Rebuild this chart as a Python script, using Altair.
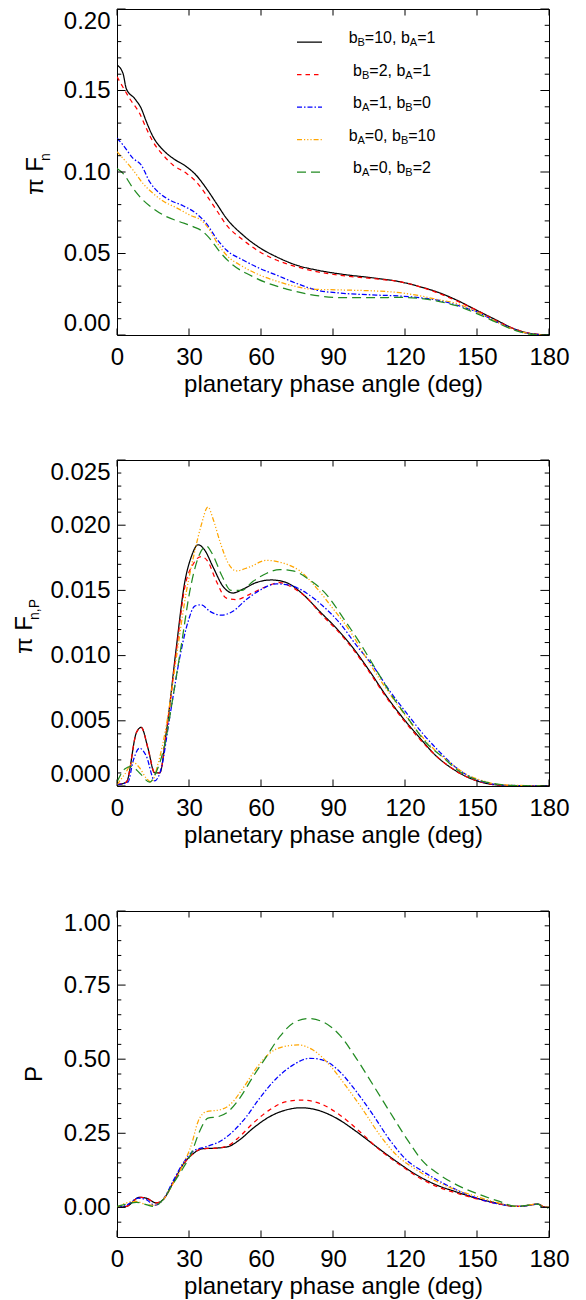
import re
import altair as alt
import pandas as pd

FONT = "Liberation Sans"
W, H = 432, 326
FS = 24

SERIES = ["b_B=10, b_A=1", "b_B=2, b_A=1", "b_A=1, b_B=0", "b_A=0, b_B=10", "b_A=0, b_B=2"]
COLORS = ["#000000", "#ff0000", "#0000ff", "#ffa500", "#228b22"]
DASHES = [[1, 0], [4.5, 4], [5, 2, 1.5, 2], [5, 2, 1.2, 2, 1.2, 2, 1.2, 2], [9, 5]]

PHASE_TICKS = [0, 30, 60, 90, 120, 150, 180]

# ---------------- panel 1 : pi F_n ----------------
fn_s1_phase = [0, 2.5, 3.9, 7.4, 10.1, 12.2, 15, 19.2, 23.3, 28.9, 33, 37.2, 41.4, 45.6, 52.5, 59.4, 66.4, 74.7, 83, 94.2, 108, 117.8, 126, 133, 141.4, 149.7, 158, 165, 172, 180]
fn_s1 = [0.1656, 0.1605, 0.151, 0.145, 0.139, 0.131, 0.1217, 0.1135, 0.1084, 0.1033, 0.098, 0.090, 0.0808, 0.0716, 0.0613, 0.0536, 0.048, 0.0429, 0.0399, 0.0372, 0.0348, 0.0327, 0.0297, 0.0266, 0.0215, 0.0153, 0.0092, 0.0041, 0.001, 0.0]
fn_s2_phase = [0, 2.5, 5.3, 9.4, 12.2, 15, 19.2, 23.3, 28.9, 33, 37.2, 41.4, 45.6, 52.5, 59.4, 66.4, 74.7, 83, 94.2, 108, 117.8, 126, 133, 141.4, 149.7, 158, 165, 172, 180]
fn_s2 = [0.1585, 0.152, 0.145, 0.136, 0.1268, 0.1186, 0.1104, 0.1043, 0.0992, 0.094, 0.0859, 0.0767, 0.0675, 0.0583, 0.0511, 0.046, 0.0419, 0.0389, 0.0364, 0.0344, 0.0327, 0.0297, 0.0262, 0.021, 0.0153, 0.0088, 0.0041, 0.001, 0.0]
fn_s3_phase = [0, 2.5, 6.7, 10.1, 13.6, 17.8, 21.9, 27.5, 33, 37.2, 41.4, 45.6, 52.5, 59.4, 66.4, 74.7, 83, 94.2, 108, 117.8, 126, 133, 141.4, 149.7, 158, 165, 172, 180]
fn_s3 = [0.1207, 0.1166, 0.1084, 0.1043, 0.094, 0.0869, 0.0828, 0.0793, 0.0746, 0.0685, 0.0593, 0.0521, 0.046, 0.0409, 0.0368, 0.0317, 0.0276, 0.0256, 0.0245, 0.0239, 0.0229, 0.0215, 0.0184, 0.0143, 0.0082, 0.0037, 0.0008, 0.0]
fn_s4_phase = [0, 2.5, 6.7, 10.8, 15, 19.2, 24.7, 30.3, 35.8, 38.6, 41.4, 45.6, 52.5, 59.4, 66.4, 74.7, 80.2, 94.2, 108, 117.8, 126, 133, 141.4, 149.7, 158, 165, 172, 180]
fn_s4 = [0.1125, 0.1084, 0.1012, 0.093, 0.0869, 0.0822, 0.0781, 0.0736, 0.0695, 0.0644, 0.0573, 0.0491, 0.0419, 0.0368, 0.0331, 0.0297, 0.0282, 0.0276, 0.027, 0.026, 0.0241, 0.0219, 0.0194, 0.0143, 0.0082, 0.0035, 0.0008, 0.0]
fn_s5_phase = [0, 2.5, 6.7, 10.8, 15, 20.6, 26.1, 31.7, 35.8, 38.6, 42.8, 48.3, 55.3, 62.2, 70.6, 80.3, 94.2, 108, 117.8, 126, 133, 141.4, 149.7, 158, 165, 172, 180]
fn_s5 = [0.1022, 0.0992, 0.09, 0.0828, 0.0777, 0.0726, 0.0695, 0.0665, 0.0634, 0.0593, 0.0511, 0.0429, 0.0368, 0.0321, 0.0282, 0.0249, 0.0229, 0.0229, 0.0231, 0.0225, 0.0209, 0.018, 0.0133, 0.0078, 0.0033, 0.0006, 0.0]

# ---------------- panel 2 : pi F_n,P ----------------
fp_s1_phase = [0, 3.9, 8.1, 10.1, 12.9, 15.7, 17.8, 20.6, 24.7, 28.2, 31, 33.8, 36.5, 40, 44.2, 48.3, 52.5, 58, 64.3, 70.6, 77.5, 84.4, 91.4, 98.3, 105.3, 112.2, 119.2, 126.1, 133, 140, 147, 153.9, 160.8, 170.6, 180]
fp_s1 = [0.0001, 0.0003, 0.0041, 0.0045, 0.0029, 0.001, 0.001, 0.0042, 0.0106, 0.0156, 0.0176, 0.0185, 0.0181, 0.0168, 0.0153, 0.0148, 0.0151, 0.0156, 0.0158, 0.0156, 0.0147, 0.0134, 0.0121, 0.0106, 0.0088, 0.0069, 0.0052, 0.0037, 0.0023, 0.0013, 0.0006, 0.0002, 0.00005, 0, 0]
fp_s2_phase = [0, 3.9, 8.1, 10.1, 12.9, 15.7, 17.8, 20.6, 24.7, 28.2, 31.7, 35.1, 37.9, 41.4, 45.6, 49.7, 55.3, 62.2, 67.8, 73.3, 80.3, 84.4, 91.4, 98.3, 105.3, 112.2, 119.2, 126.1, 133, 140, 147, 153.9, 160.8, 170.6, 180]
fp_s2 = [0.0001, 0.0003, 0.0041, 0.0045, 0.0029, 0.001, 0.001, 0.0042, 0.0103, 0.0152, 0.017, 0.0176, 0.0172, 0.0157, 0.0144, 0.0143, 0.0147, 0.0153, 0.0156, 0.0152, 0.0142, 0.0133, 0.012, 0.0105, 0.0087, 0.0068, 0.0051, 0.0036, 0.0023, 0.0013, 0.0006, 0.0002, 0.00005, 0, 0]
fp_s3_phase = [0, 4.6, 6.7, 9.4, 12.2, 15.7, 18.5, 21.9, 26.1, 29.6, 32.4, 35.1, 38.6, 43.5, 48.3, 53.9, 59.4, 66.4, 71.9, 78.9, 85.8, 92.8, 99.7, 106.7, 113.6, 120.6, 127.5, 134.5, 141.4, 148.3, 155.3, 162.2, 180]
fp_s3 = [0.0001, 0.0003, 0.0019, 0.0029, 0.0023, 0.0004, 0.0014, 0.0052, 0.0098, 0.0126, 0.0138, 0.0139, 0.0134, 0.0131, 0.0134, 0.0143, 0.015, 0.0155, 0.0154, 0.0148, 0.0138, 0.0125, 0.0108, 0.0092, 0.0073, 0.0056, 0.004, 0.0026, 0.0014, 0.0006, 0.0002, 0.00005, 0]
fp_s4_phase = [0, 3.2, 6.7, 9.4, 12.2, 14.3, 17.1, 20.6, 24.7, 28.9, 32.4, 35.1, 37.9, 40, 42.8, 46.3, 49.7, 55.3, 62.2, 69.2, 76.1, 83.1, 90, 97, 103.9, 110.9, 117.8, 124.7, 131.7, 138.6, 145.6, 152.5, 159.5, 180]
fp_s4 = [0.0001, 0.0009, 0.0018, 0.0014, 0.0006, 0.0003, 0.0017, 0.0047, 0.0098, 0.0149, 0.018, 0.02, 0.0214, 0.0205, 0.0188, 0.0171, 0.0165, 0.0168, 0.0173, 0.0171, 0.0165, 0.0152, 0.0136, 0.0119, 0.0098, 0.0078, 0.006, 0.0043, 0.0029, 0.0018, 0.0009, 0.0004, 0.0001, 0]
fp_s5_phase = [0, 3.2, 6, 9.4, 13.6, 16.4, 19.9, 23.3, 26.8, 30.3, 33.8, 37.2, 40, 43.5, 47.6, 51.8, 56.7, 62.2, 67.8, 73.3, 80.3, 87.2, 94.2, 101.1, 108, 115, 122, 128.9, 135.8, 142.8, 149.7, 156.7, 163.6, 180]
fp_s5 = [0.0003, 0.0013, 0.0015, 0.001, 0.0003, 0.0011, 0.0032, 0.0068, 0.0108, 0.0149, 0.0175, 0.0184, 0.0177, 0.0162, 0.015, 0.015, 0.0157, 0.0163, 0.0166, 0.0165, 0.0158, 0.0147, 0.0129, 0.011, 0.0089, 0.0068, 0.005, 0.0033, 0.0022, 0.0011, 0.0005, 0.0002, 0.00005, 0]

# ---------------- panel 3 : P ----------------
pol_s1_phase = [0, 3.9, 9.4, 12.2, 16.4, 19.2, 23.3, 27.5, 31.7, 35.8, 41.4, 46.3, 51.1, 56.7, 63.6, 70.6, 76.8, 83.1, 91.4, 99.7, 108, 116.4, 124.7, 133, 141.4, 149.7, 158, 166.4, 170.6, 175.4, 177.5, 180]
pol_s1 = [0, 0.003, 0.034, 0.031, 0.015, 0.026, 0.082, 0.144, 0.181, 0.198, 0.2, 0.205, 0.228, 0.267, 0.306, 0.329, 0.336, 0.329, 0.301, 0.256, 0.205, 0.155, 0.11, 0.076, 0.052, 0.031, 0.015, 0.003, 0.006, 0.011, 0.003, 0]
pol_s2_phase = [0, 3.9, 9.4, 12.2, 16.4, 19.2, 23.3, 27.5, 31.7, 35.8, 41.4, 46.3, 51.1, 56.7, 63.6, 70.6, 77.5, 84.4, 92.8, 101.1, 109.4, 117.8, 126.1, 134.4, 142.8, 151.1, 159.4, 166.4, 170.6, 175.4, 177.5, 180]
pol_s2 = [0, 0.003, 0.034, 0.031, 0.015, 0.026, 0.082, 0.144, 0.181, 0.198, 0.2, 0.208, 0.239, 0.284, 0.329, 0.357, 0.362, 0.351, 0.312, 0.256, 0.194, 0.144, 0.099, 0.067, 0.045, 0.026, 0.011, 0.003, 0.006, 0.011, 0.003, 0]
pol_s3_phase = [0, 3.9, 8.8, 12.2, 15.7, 19.2, 23.3, 27.5, 31.7, 37.2, 42.8, 48.3, 53.9, 59.4, 66.4, 73.3, 80.3, 85.8, 92.8, 99.7, 106.7, 113.6, 120.6, 127.5, 134.4, 142.8, 151.1, 159.4, 166.4, 171.9, 175.4, 177.5, 180]
pol_s3 = [0, 0.007, 0.031, 0.026, 0.007, 0.026, 0.088, 0.149, 0.189, 0.205, 0.222, 0.256, 0.306, 0.368, 0.435, 0.48, 0.503, 0.497, 0.458, 0.391, 0.312, 0.228, 0.16, 0.121, 0.088, 0.054, 0.028, 0.011, 0.003, 0.007, 0.011, 0, 0]
pol_s4_phase = [0, 3.9, 8.1, 12.2, 15.7, 19.2, 23.3, 27.5, 31, 33.8, 37.2, 42.8, 47, 52.5, 58, 63.6, 69.2, 75.4, 81.7, 88.6, 95.6, 102.5, 109.4, 116.4, 124.7, 133, 141.4, 149.7, 158, 166.4, 175.4, 177.5, 180]
pol_s4 = [0, 0.015, 0.02, 0.009, 0.007, 0.026, 0.079, 0.144, 0.211, 0.29, 0.323, 0.329, 0.346, 0.402, 0.469, 0.52, 0.542, 0.548, 0.531, 0.48, 0.407, 0.329, 0.245, 0.177, 0.127, 0.088, 0.059, 0.037, 0.017, 0.003, 0.011, 0.003, 0]
pol_s5_phase = [0, 3.9, 8.1, 12.2, 15, 19.2, 23.3, 27.5, 31, 34.4, 37.9, 42.1, 46.3, 51.1, 56.7, 62.2, 67.8, 73.3, 79.6, 85.8, 92.8, 99.7, 106.7, 113.6, 120.6, 127.5, 134.4, 142.8, 151.1, 159.4, 166.4, 175.4, 178.2, 180]
pol_s5 = [0.003, 0.011, 0.017, 0.009, 0.003, 0.026, 0.079, 0.132, 0.183, 0.256, 0.301, 0.306, 0.323, 0.368, 0.441, 0.508, 0.576, 0.621, 0.637, 0.626, 0.581, 0.503, 0.413, 0.323, 0.233, 0.155, 0.11, 0.071, 0.043, 0.02, 0.003, 0.011, -0.004, 0]

# axis tick values
fn_major = [0.0, 0.05, 0.10, 0.15, 0.20]
fn_minor = [round(i * 0.01, 3) for i in range(21) if i % 5]
fp_major = [0.0, 0.005, 0.010, 0.015, 0.020, 0.025]
fp_minor = [round(i * 0.001, 4) for i in range(26) if i % 5]
pol_major = [0.0, 0.25, 0.50, 0.75, 1.00]
pol_minor = [-0.05, 0.05, 0.10, 0.15, 0.20, 0.30, 0.35, 0.40, 0.45, 0.55, 0.60, 0.65, 0.70, 0.80, 0.85, 0.90, 0.95]


def long_df(pairs):
    rows = []
    for name, (ph, vals) in zip(SERIES, pairs):
        for a, b in zip(ph, vals):
            rows.append({"phase": a, "value": b, "series": name})
    return pd.DataFrame(rows)


ONE = pd.DataFrame({"k": [0]})

X_MAJ = 6.5
Y_MAJ = 8.6
Y_MIN = 4.3


def panel(df, ydom, ymaj, ymin, fmt, title_marks, extra=None):
    xs = alt.Scale(domain=[0, 180], nice=False, zero=False)
    ys = alt.Scale(domain=ydom, nice=False, zero=False)
    xax = alt.Axis(values=PHASE_TICKS, title="planetary phase angle (deg)", format="d",
                   labelFlush=False, labelPadding=10, titlePadding=3)
    yax = alt.Axis(values=ymaj, format=fmt, title=None, labelFlush=True, labelPadding=7)
    x = alt.X("phase:Q", scale=xs, axis=xax)
    y = alt.Y("value:Q", scale=ys, axis=yax)
    lines = alt.Chart(df).mark_line(strokeWidth=1.25, interpolate="monotone", clip=True).encode(
        x=x, y=y,
        color=alt.Color("series:N", scale=alt.Scale(domain=SERIES, range=COLORS), legend=None),
        strokeDash=alt.StrokeDash("series:N", scale=alt.Scale(domain=SERIES, range=DASHES), legend=None),
    )
    xt = pd.DataFrame({"phase": PHASE_TICKS})
    yM = pd.DataFrame({"value": ymaj})
    ym = pd.DataFrame({"value": ymin})
    rule = dict(color="black", strokeWidth=1)
    layers = [lines]
    layers.append(alt.Chart(xt).mark_rule(**rule).encode(x=x, y=alt.value(0), y2=alt.value(X_MAJ)))
    layers.append(alt.Chart(xt).mark_rule(**rule).encode(x=x, y=alt.value(H), y2=alt.value(H - X_MAJ)))
    layers.append(alt.Chart(yM).mark_rule(**rule).encode(y=y, x=alt.value(0), x2=alt.value(Y_MAJ)))
    layers.append(alt.Chart(yM).mark_rule(**rule).encode(y=y, x=alt.value(W), x2=alt.value(W - Y_MAJ)))
    layers.append(alt.Chart(ym).mark_rule(**rule).encode(y=y, x=alt.value(0), x2=alt.value(Y_MIN)))
    layers.append(alt.Chart(ym).mark_rule(**rule).encode(y=y, x=alt.value(W), x2=alt.value(W - Y_MIN)))
    for (txt, px, py, fs, align) in title_marks:
        layers.append(alt.Chart(ONE).mark_text(
            angle=270, align=align, baseline="alphabetic", fontSize=fs, font=FONT, color="black"
        ).encode(x=alt.value(px), y=alt.value(py), text=alt.value(txt)))
    if extra:
        layers.extend(extra)
    return alt.layer(*layers).properties(width=W, height=H)


# ---------------- legend (panel 1) ----------------
ARIAL = {'b': 556, '=': 584, ',': 278, ' ': 278, 'A': 667, 'B': 667, '0': 556, '1': 556, '2': 556}
LEG_FS, LEG_SUB = 16, 11
LEG_X0, LEG_X1, LEG_CX = 180, 205, 275
LEG_Y = [33, 65.5, 98, 130.5, 163]


def pieces(label):
    out = []
    for m in re.finditer(r"_(.)|([^_]+?)(?=_|$)", label):
        if m.group(1):
            out.append((m.group(1), True))
        else:
            out.append((m.group(2), False))
    return out


legend_layers = []
for name, col, dash, ly in zip(SERIES, COLORS, DASHES, LEG_Y):
    legend_layers.append(alt.Chart(ONE).mark_rule(color=col, strokeWidth=1.25, strokeDash=dash).encode(
        x=alt.value(LEG_X0), x2=alt.value(LEG_X1), y=alt.value(ly)))
    pcs = pieces(name)
    widths = [sum(ARIAL[c] for c in t) * (LEG_SUB if s else LEG_FS) / 1000 for t, s in pcs]
    cx = LEG_CX - sum(widths) / 2
    for (t, s), w in zip(pcs, widths):
        legend_layers.append(alt.Chart(ONE).mark_text(
            align="left", baseline="alphabetic", fontSize=(LEG_SUB if s else LEG_FS), font=FONT, color="black"
        ).encode(x=alt.value(cx), y=alt.value(ly + (4 if s else 1)), text=alt.value(t)))
        cx += w

p1 = panel(long_df([(fn_s1_phase, fn_s1), (fn_s2_phase, fn_s2), (fn_s3_phase, fn_s3), (fn_s4_phase, fn_s4), (fn_s5_phase, fn_s5)]),
           [0, 0.20], fn_major, fn_minor, ".2f",
           [("π F", -74, 186, FS, "left"), ("n", -67, 152, 14, "left")], legend_layers)
p2 = panel(long_df([(fp_s1_phase, fp_s1), (fp_s2_phase, fp_s2), (fp_s3_phase, fp_s3), (fp_s4_phase, fp_s4), (fp_s5_phase, fp_s5)]),
           [0, 0.025], fp_major, fp_minor, ".3f",
           [("π F", -85, 194, FS, "left"), ("n,P", -78, 160, 14, "left")])
p3 = panel(long_df([(pol_s1_phase, pol_s1), (pol_s2_phase, pol_s2), (pol_s3_phase, pol_s3), (pol_s4_phase, pol_s4), (pol_s5_phase, pol_s5)]),
           [-0.1, 1.0], pol_major, pol_minor, ".2f",
           [("P", -75, 163, FS, "center")])

chart = alt.vconcat(p1, p2, p3, spacing=125, bounds="flush").properties(
    padding={"left": 4, "top": 0, "right": 5, "bottom": 5}
).configure_view(stroke="black", strokeWidth=1).configure_axis(
    labelFont=FONT, titleFont=FONT, labelFontSize=FS, titleFontSize=FS,
    labelColor="black", titleColor="black", titleFontWeight="normal",
    grid=False, domain=False, ticks=False, tickSize=0, labelOverlap=False
)

chart.save("out.html", embed_options={"renderer": "svg", "actions": False})
